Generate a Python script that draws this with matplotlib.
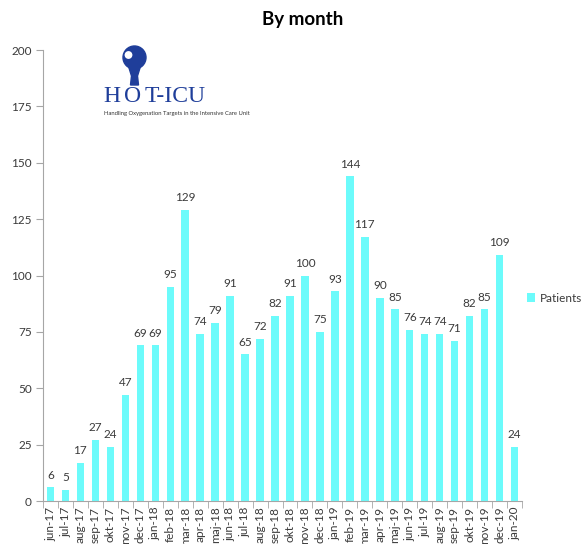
import matplotlib
matplotlib.use('Agg')
import matplotlib.pyplot as plt
from matplotlib.patches import Circle, Polygon

plt.rcParams['font.family'] = ['Lato', 'DejaVu Sans']

months = [
	'jun-17', 'jul-17', 'aug-17', 'sep-17', 'okt-17', 'nov-17', 'dec-17',
	'jan-18', 'feb-18', 'mar-18', 'apr-18', 'maj-18', 'jun-18', 'jul-18',
	'aug-18', 'sep-18', 'okt-18', 'nov-18', 'dec-18',
	'jan-19', 'feb-19', 'mar-19', 'apr-19', 'maj-19', 'jun-19', 'jul-19',
	'aug-19', 'sep-19', 'okt-19', 'nov-19', 'dec-19', 'jan-20',
]
patients = [
	6, 5, 17, 27, 24, 47, 69,
	69, 95, 129, 74, 79, 91, 65,
	72, 82, 91, 100, 75,
	93, 144, 117, 90, 85, 76, 74,
	74, 71, 82, 85, 109, 24,
]
y_ticks = [0, 25, 50, 75, 100, 125, 150, 175, 200]

bar_color = '#6CFBFB'
text_color = '#3A3A3A'
axis_color = '#A6A6A6'

fig = plt.figure(figsize=(5.86, 5.44), dpi=100)
ax = fig.add_axes([0.0734, 0.079, 0.8174, 0.829])

x = list(range(len(months)))
bars = ax.bar(x, patients, width=0.5, color=bar_color, label='Patients')
for xi, v in zip(x, patients):
	ax.text(xi, v + 3, str(v), ha='center', va='bottom', fontsize=8.5, color=text_color)

ax.set_xlim(-0.5, len(months) - 0.5)
ax.set_ylim(0, 200)
ax.set_yticks(y_ticks)
ax.set_yticklabels([str(t) for t in y_ticks], fontsize=8.5, color=text_color)
ax.set_xticks(x)
ax.set_xticklabels(months, rotation=90, fontsize=8.5, color=text_color)
# tick marks sit between categories
ax.tick_params(axis='x', length=0, pad=4)
ax.set_xticks([i - 0.5 for i in range(len(months) + 1)], minor=True)
ax.tick_params(axis='x', which='minor', length=5, color=axis_color, direction='out')
ax.tick_params(axis='y', length=5, color=axis_color, direction='out', pad=3)
for side in ['top', 'right']:
	ax.spines[side].set_visible(False)
for side in ['left', 'bottom']:
	ax.spines[side].set_color(axis_color)

fig.text(0.517, 0.964, 'By month', ha='center', va='center', fontsize=13.5,
	fontweight='bold', color='black')

leg = fig.legend(handles=[bars], loc='center left', bbox_to_anchor=(527 / 586, 1 - 298 / 544),
	frameon=False, fontsize=8.5, handlelength=0.7, handleheight=0.7, handletextpad=0.4,
	borderaxespad=0, borderpad=0)
for t in leg.get_texts():
	t.set_color(text_color)

# logo, drawn in figure pixel space
logo = fig.add_axes([0, 0, 1, 1], zorder=5)
logo.set_xlim(0, 586)
logo.set_ylim(544, 0)
logo.axis('off')
blue = '#1F3E9A'
serif = dict(fontsize=17, family='Liberation Serif', color=blue, ha='left', va='baseline')
logo.text(103.5, 102, 'H', **serif)
logo.text(124, 102, 'O', **serif)
logo.text(144.5, 102, 'T-ICU', **serif)
logo.text(104, 113.5, 'Handling Oxygenation Targets in the Intensive Care Unit',
	fontsize=4.2, color='#333333', ha='left', va='center')
logo.add_patch(Circle((134.5, 57.5), 11.5, color=blue))
logo.add_patch(Polygon([[127.5, 63], [141.5, 63], [137.5, 76], [138.5, 85], [130.5, 85], [131.5, 76]],
	closed=True, color=blue))
logo.add_patch(Circle((128.5, 55), 3.2, color='white'))

fig.savefig('out.png', dpi=100)
